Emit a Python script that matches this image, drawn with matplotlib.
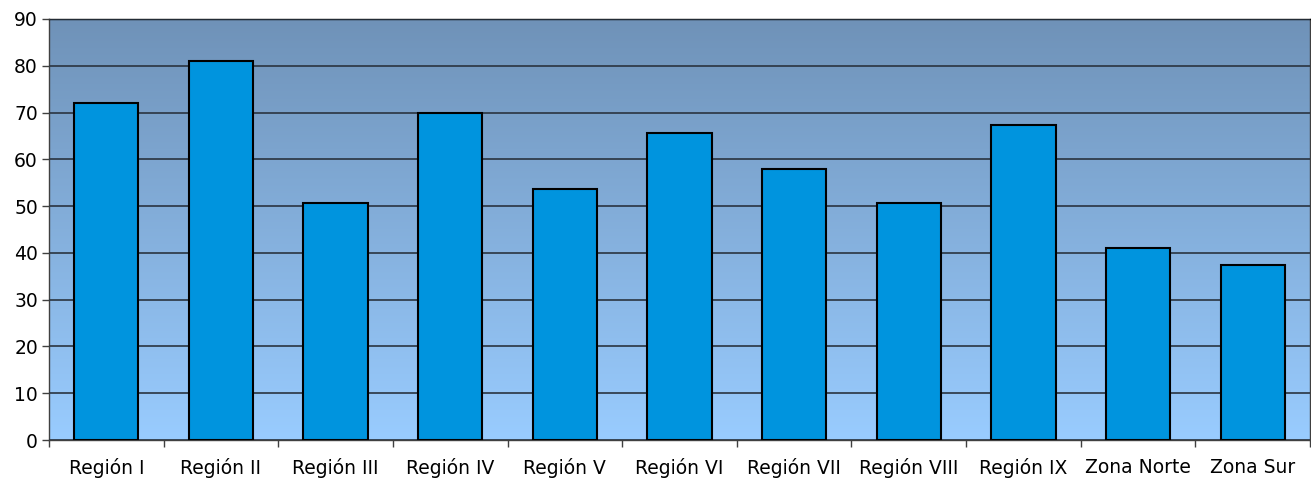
import matplotlib.pyplot as plt
import numpy as np
from matplotlib.colors import LinearSegmentedColormap

categories = ["Región I", "Región II", "Región III", "Región IV", "Región V", "Región VI",
              "Región VII", "Región VIII", "Región IX", "Zona Norte", "Zona Sur"]
values = [72.0, 81.0, 50.7, 70.0, 53.6, 65.6, 57.9, 50.6, 67.4, 41.0, 37.5]
yticks = [0, 10, 20, 30, 40, 50, 60, 70, 80, 90]

fig = plt.figure(figsize=(13.11, 4.84), dpi=100)
ax = fig.add_axes([49 / 1311, 44 / 484, 1261 / 1311, 421 / 484])

n = len(categories)
x = np.arange(n)

# gradient background, light at bottom, steel blue at top
cmap = LinearSegmentedColormap.from_list("bg", ["#99CCFF", "#6F92B8"])
grad = np.linspace(0, 1, 256).reshape(-1, 1)
ax.imshow(grad, cmap=cmap, aspect="auto", origin="lower",
          extent=[-0.5, n - 0.5, 0, 90], zorder=0)

ax.bar(x, values, width=0.56, color="#0094DE", edgecolor="black", linewidth=1.5, zorder=3)

ax.set_xlim(-0.5, n - 0.5)
ax.set_ylim(0, 90)
ax.set_yticks(yticks)
ax.yaxis.grid(True, color="#2a3440", linewidth=1.2, zorder=1)
ax.set_axisbelow(False)
for gl in ax.get_ygridlines():
    gl.set_zorder(1)

ax.set_xticks(x)
ax.set_xticklabels(categories)
ax.set_xticks(np.arange(-0.5, n, 1), minor=True)
ax.tick_params(axis="x", which="major", length=0, pad=13, labelsize=13.5)
ax.tick_params(axis="x", which="minor", length=5, width=1, color="#404040")
ax.tick_params(axis="y", length=5, width=1, color="#404040", labelsize=13.5, pad=3)

for s in ax.spines.values():
    s.set_color("#404040")
    s.set_linewidth(1)
ax.spines["top"].set_color("black")

plt.savefig("out.png", dpi=100)
